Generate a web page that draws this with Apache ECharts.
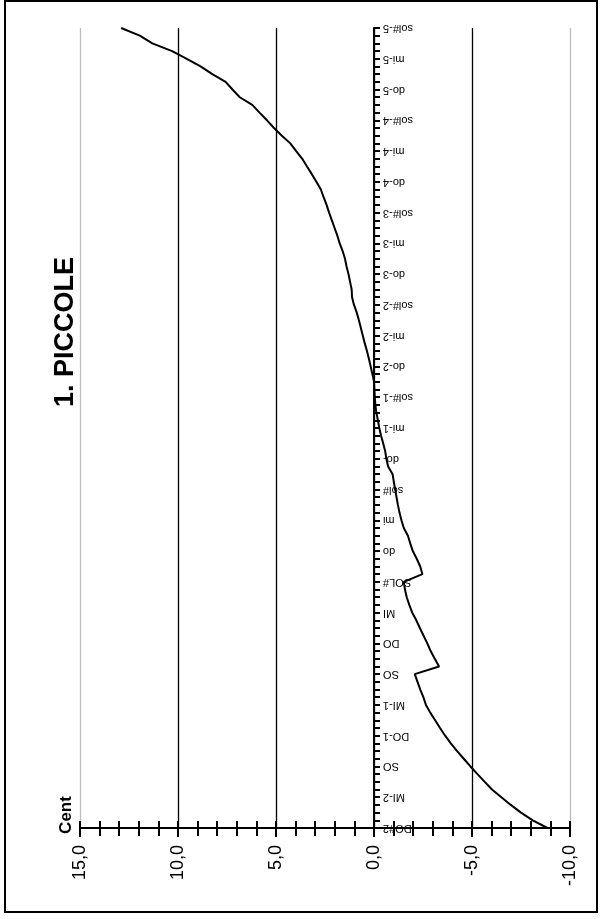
<!DOCTYPE html>
<html>
<head>
<meta charset="utf-8">
<script src="https://cdn.jsdelivr.net/npm/echarts@6/dist/echarts.min.js"></script>
<style>
html,body{margin:0;padding:0;background:#fff;}
#chart{width:602px;height:919px;}
</style>
</head>
<body>
<div id="chart"></div>
<script>
// Labelled notes (every 4th category, bottom to top)
const tickLabels = ['DO#2','MI-2','SO','DO-1','MI-1','SO','DO','MI','SOL#','do','mi','sol#','do-','mi-1','sol#-1','do-2','mi-2','sol#-2','do-3','mi-3','sol#-3','do-4','mi-4','sol#-4','do-5','mi-5','sol#-5'];
// Deviation in cents, one value per key (bottom to top)
const cents = [
 -8.85,-8.10,-7.50,-6.98,-6.50,-6.02,-5.65,-5.28,-4.92,-4.58,
 -4.24,-3.92,-3.63,-3.37,-3.12,-2.87,-2.65,-2.52,-2.36,-2.22,
 -2.08,-3.32,-3.10,-2.89,-2.72,-2.53,-2.34,-2.16,-1.95,-1.80,
 -1.67,-1.58,-1.52,-2.47,-2.36,-2.18,-1.98,-1.85,-1.73,-1.52,
 -1.40,-1.30,-1.22,-1.15,-1.08,-1.01,-0.95,-0.72,-0.63,-0.57,
 -0.47,-0.36,-0.27,-0.20,-0.12,-0.07,-0.04,-0.02,0.00,0.08,
 0.17,0.26,0.36,0.47,0.57,0.67,0.77,0.88,1.02,1.12,
 1.14,1.22,1.30,1.40,1.48,1.60,1.75,1.87,2.01,2.15,
 2.29,2.42,2.57,2.71,2.94,3.17,3.42,3.66,3.97,4.27,
 4.70,5.10,5.46,5.84,6.21,6.85,7.22,7.57,8.25,8.85,
 9.55,10.30,11.31,11.95,12.90
];
const valueTicks = [-10, -5, 0, 5, 10, 15];

const categories = cents.map((_, i) => i % 4 === 0 ? tickLabels[i / 4] : tickLabels[Math.floor(i / 4)] + '_' + (i % 4));

const FONT = '"Liberation Sans", Arial, sans-serif';
const chart = echarts.init(document.getElementById('chart'), null, {renderer: 'canvas'});
const xMin = valueTicks[0], xMax = valueTicks[valueTicks.length - 1];

// plot geometry
const G = {left: 80, right: 32, top: 28, bottom: 91};
const plotW = 602 - G.left - G.right;
const zeroX = G.left + plotW * (xMax - 0) / (xMax - xMin); // where the category axis sits (value 0)

chart.setOption({
  animation: false,
  backgroundColor: '#fff',
  grid: [
    {left: G.left, right: G.right, top: G.top, bottom: G.bottom, outerBoundsMode: 'none', containLabel: false},
    {left: zeroX, width: 120, top: G.top, bottom: G.bottom, outerBoundsMode: 'none', containLabel: false}
  ],
  xAxis: [{
    gridIndex: 0, type: 'value', min: xMin, max: xMax, interval: 5, inverse: true, position: 'bottom',
    axisLine: {show: true, onZero: false, lineStyle: {color: '#000', width: 2}},
    axisTick: {show: true, length: 9, lineStyle: {color: '#000', width: 2}},
    minorTick: {show: true, splitNumber: 5, length: 8, lineStyle: {color: '#000', width: 2}},
    axisLabel: {rotate: 90, margin: 17, fontSize: 18, color: '#000', fontFamily: FONT,
      formatter: v => v.toFixed(1).replace('.', ',')},
    splitLine: {show: true, lineStyle: {color: ['#bdbdbd','#000','#000','#000','#000','#bdbdbd'], width: 1.3}}
  }, {
    gridIndex: 0, type: 'value', min: xMin, max: xMax, interval: 5, inverse: true, position: 'bottom',
    axisLine: {show: false, onZero: false},
    axisTick: {show: true, inside: true, length: 7, lineStyle: {color: '#000', width: 2}},
    minorTick: {show: true, splitNumber: 5, length: 7, lineStyle: {color: '#000', width: 2}},
    axisLabel: {show: false},
    splitLine: {show: false}
  }, {
    gridIndex: 1, type: 'value', min: 0, max: 1, show: false
  }],
  yAxis: [{
    gridIndex: 0, type: 'category', data: categories, boundaryGap: false, show: false
  }, {
    gridIndex: 1, type: 'category', data: categories, boundaryGap: false, position: 'left',
    axisLine: {show: true, onZero: false, lineStyle: {color: '#000', width: 2}},
    axisTick: {show: true, inside: true, interval: 0, length: 6, lineStyle: {color: '#000', width: 2}},
    axisLabel: {inside: true, interval: 3, rotate: 180, margin: 9, fontSize: 11, color: '#000', fontFamily: FONT},
    splitLine: {show: false}
  }],
  series: [{
    type: 'line', xAxisIndex: 0, yAxisIndex: 0, data: cents,
    showSymbol: false, symbol: 'none', z: 5,
    lineStyle: {color: '#000', width: 2}
  }],
  graphic: [
    {type: 'rect', shape: {x: 5, y: 1, width: 592, height: 911}, style: {fill: 'none', stroke: '#000', lineWidth: 2}, silent: true},
    {type: 'text', x: 66, y: 332, rotation: Math.PI / 2,
      style: {text: '1. PICCOLE', font: 'bold 27px ' + FONT, fill: '#000', align: 'center', verticalAlign: 'middle'}},
    {type: 'text', x: 66, y: 815, rotation: Math.PI / 2,
      style: {text: 'Cent', font: 'bold 17px ' + FONT, fill: '#000', align: 'center', verticalAlign: 'middle'}}
  ]
});
</script>
</body>
</html>
